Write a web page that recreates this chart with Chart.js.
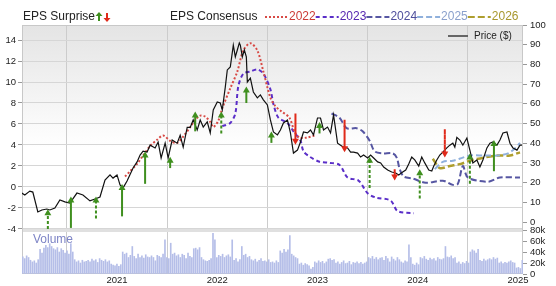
<!DOCTYPE html>
<html>
<head>
<meta charset="utf-8">
<script src="https://cdn.jsdelivr.net/npm/chart.js@4.4.1/dist/chart.umd.min.js"></script>
<style>
html, body { margin: 0; padding: 0; background: #fff; }
#wrap { width: 556px; height: 286px; }
</style>
</head>
<body>
<div id="wrap"><canvas id="epsChart" width="556" height="286"></canvas></div>
<script>
// tick labels
const yearTicks = [2021, 2022, 2023, 2024, 2025];
const epsTicks = [-4, -2, 0, 2, 4, 6, 8, 10, 12, 14];
const priceTicks = [0, 10, 20, 30, 40, 50, 60, 70, 80, 90, 100];
const volumeTicks = [0, 20, 40, 60, 80];

// price ($), time in decimal years
const priceYears = [2020.05, 2020.08, 2020.13, 2020.16, 2020.21, 2020.25, 2020.30, 2020.33, 2020.38, 2020.43,
  2020.48, 2020.53, 2020.60, 2020.66, 2020.73, 2020.78, 2020.83, 2020.88, 2020.93, 2020.96,
  2021.00, 2021.03, 2021.06, 2021.10, 2021.16, 2021.20, 2021.23, 2021.26, 2021.30, 2021.33,
  2021.38, 2021.41, 2021.44, 2021.48, 2021.51, 2021.55, 2021.60, 2021.63, 2021.66, 2021.70,
  2021.73, 2021.76, 2021.80, 2021.83, 2021.86, 2021.90, 2021.93, 2021.96, 2022.00, 2022.03,
  2022.05, 2022.08, 2022.10, 2022.13, 2022.16, 2022.18, 2022.20, 2022.22, 2022.23, 2022.25,
  2022.27, 2022.29, 2022.30, 2022.33, 2022.36, 2022.40, 2022.43, 2022.46, 2022.50, 2022.53,
  2022.56, 2022.60, 2022.63, 2022.66, 2022.70, 2022.73, 2022.76, 2022.80, 2022.83, 2022.86,
  2022.90, 2022.93, 2022.96, 2023.00, 2023.03, 2023.06, 2023.10, 2023.13, 2023.16, 2023.20,
  2023.23, 2023.26, 2023.30, 2023.33, 2023.36, 2023.40, 2023.43, 2023.46, 2023.50, 2023.53,
  2023.56, 2023.60, 2023.63, 2023.66, 2023.70, 2023.74, 2023.78, 2023.81, 2023.85, 2023.88,
  2023.91, 2023.94, 2023.97, 2024.01, 2024.04, 2024.07, 2024.11, 2024.14, 2024.16, 2024.19,
  2024.22, 2024.25, 2024.29, 2024.32, 2024.35, 2024.37, 2024.39, 2024.42, 2024.45, 2024.49,
  2024.52, 2024.55, 2024.59, 2024.62, 2024.65, 2024.69, 2024.72, 2024.75, 2024.79, 2024.82,
  2024.85, 2024.89, 2024.92, 2024.95, 2024.99, 2025.02, 2025.04];
const priceValues = [14.7, 13.7, 15.7, 15.2, 5.1, 6.1, 6.6, 6.1, 7.1, 11.2,
  10.2, 9.6, 14.7, 13.7, 10.7, 11.7, 12.7, 21.3, 23.9, 22.3,
  23.9, 18.8, 17.3, 20.8, 27.4, 30.5, 34.0, 36.0, 35.5, 39.0,
  37.6, 40.6, 32.5, 40.0, 32.5, 41.6, 40.0, 44.0, 38.0, 48.0,
  48.0, 51.8, 46.7, 51.8, 48.2, 50.8, 45.2, 56.9, 60.9, 60.4,
  56.9, 68.5, 77.2, 78.7, 89.8, 83.8, 87.3, 90.9, 89.8, 83.8,
  87.3, 83.8, 71.0, 73.0, 66.0, 63.0, 64.5, 62.0, 59.4, 51.8,
  45.7, 44.2, 46.7, 50.3, 51.8, 45.2, 35.0, 36.5, 40.6, 45.7,
  45.2, 46.7, 44.2, 52.8, 52.8, 46.7, 48.2, 45.2, 54.3, 40.0,
  39.0, 38.0, 37.6, 35.5, 35.5, 35.0, 33.0, 34.0, 32.5, 34.0,
  32.5, 30.5, 30.0, 27.9, 26.4, 25.4, 24.9, 23.9, 25.4, 26.4,
  29.4, 33.0, 31.5, 28.4, 33.0, 30.0, 26.4, 25.9, 28.4, 31.5,
  34.0, 35.5, 37.6, 39.0, 40.0, 38.0, 43.0, 41.6, 39.0, 42.6,
  36.5, 30.0, 31.5, 27.9, 31.5, 37.6, 40.0, 40.6, 39.0, 41.6,
  45.2, 45.7, 40.0, 37.6, 36.5, 39.0, 39.0];

// EPS consensus per fiscal year
const consensusLabels = ['2022', '2023', '2024', '2025', '2026'];
const eps2022Years = [2021.08, 2021.13, 2021.20, 2021.26, 2021.33, 2021.40, 2021.46, 2021.53, 2021.60, 2021.66,
  2021.73, 2021.78, 2021.83, 2021.88, 2021.93, 2021.96, 2022.01, 2022.05, 2022.13, 2022.20,
  2022.26, 2022.33, 2022.40, 2022.46, 2022.53, 2022.58, 2022.64, 2022.72, 2022.77, 2022.82,
  2022.89, 2022.97];
const eps2022Values = [1.0, 1.5, 2.2, 3.0, 3.9, 4.5, 4.9, 4.4, 4.2, 4.8,
  5.7, 6.4, 6.8, 6.7, 6.2, 5.7, 6.3, 7.5, 9.4, 11.0,
  13.0, 13.7, 13.0, 11.0, 8.5, 7.7, 7.2, 6.6, 5.3, 4.7,
  4.7, 4.9];
const eps2023Years = [2022.05, 2022.13, 2022.18, 2022.21, 2022.26, 2022.33, 2022.40, 2022.46, 2022.53, 2022.56,
  2022.61, 2022.70, 2022.76, 2022.83, 2022.86, 2022.92, 2023.02, 2023.12, 2023.22, 2023.30,
  2023.41, 2023.50, 2023.58, 2023.73, 2023.80, 2023.96];
const eps2023Values = [5.8, 6.1, 7.0, 9.6, 10.8, 11.0, 11.2, 10.8, 9.3, 7.9,
  6.6, 6.1, 5.3, 4.4, 3.4, 2.9, 2.4, 2.3, 2.1, 0.9,
  0.6, -0.6, -1.0, -1.3, -2.3, -2.5];
const eps2024Years = [2023.14, 2023.22, 2023.29, 2023.39, 2023.45, 2023.52, 2023.57, 2023.65, 2023.75, 2023.79,
  2023.82, 2023.86, 2023.95, 2024.08, 2024.25, 2024.35, 2024.40, 2024.45, 2024.50, 2024.70,
  2024.82, 2025.02];
const eps2024Values = [7.0, 6.6, 5.6, 5.6, 5.3, 4.4, 3.4, 3.2, 3.2, 2.8,
  1.7, 1.0, 0.8, 0.4, 0.6, 0.2, 0.3, 2.0, 0.9, 0.5,
  0.9, 0.9];
const eps2025Years = [2024.17, 2024.25, 2024.35, 2024.45, 2024.52, 2024.66, 2024.80, 2024.90, 2024.96, 2025.02];
const eps2025Values = [1.7, 2.4, 2.5, 2.8, 3.0, 3.0, 3.0, 3.2, 3.6, 4.2];
const eps2026Years = [2024.15, 2024.22, 2024.32, 2024.43, 2024.52, 2024.66, 2024.80, 2024.92, 2025.02];
const eps2026Values = [2.7, 1.8, 2.0, 2.2, 2.5, 2.8, 3.0, 3.0, 3.3];

// EPS surprise arrows: consensus -> actual
const surpriseYears = [2020.31, 2020.54, 2020.79, 2021.05, 2021.28, 2021.53, 2021.78, 2022.04, 2022.29, 2022.54,
  2022.78, 2023.02, 2023.27, 2023.52, 2023.77, 2024.02, 2024.27, 2024.52, 2024.76];
const surpriseFrom = [-4.0, -3.9, -3.0, -2.8, 0.3, 1.8, 5.3, 5.1, 8.0, 4.2,
  7.0, 5.1, 6.4, -0.1, 1.7, -1.1, 5.5, 0.3, 1.5];
const surpriseTo = [-2.5, -1.3, -1.3, -0.1, 3.0, 2.5, 6.8, 6.8, 9.2, 4.9,
  4.4, 5.8, 3.7, 2.5, 1.0, 1.3, 3.2, 2.8, 4.1];
const surpriseDashed = [1, 0, 1, 0, 0, 0, 0, 1, 0, 0, 0, 0, 0, 1, 0, 1, 1, 1, 0];

// weekly volume (thousands)
const volumeStart = 2020.06;
const volumes = [31, 28, 33, 30, 25, 22, 24, 20, 26, 45, 38, 47,
  52, 48, 55, 50, 46, 44, 48, 40, 46, 43, 38, 42, 36, 55, 40,
  26, 22, 24, 20, 25, 22, 23, 25, 22, 27, 24, 26, 21, 28, 25, 23, 26, 22, 24, 18, 16,
  15, 18, 14, 17, 40, 36, 38, 30, 34, 50, 32, 28, 36, 30, 33, 29, 35, 31, 30,
  33, 30, 24, 34, 32, 30, 36, 62, 30, 28, 56, 36, 38, 33, 35, 30, 36, 34, 28, 38, 32, 30,
  46, 47, 44, 48, 30, 26, 24, 23, 25, 28, 74, 62, 30, 34, 32, 36, 30, 33, 35, 31, 62,
  25, 28, 22, 26, 50, 34, 36, 30, 32, 26, 24, 27, 22, 25, 28, 23, 24, 22, 26, 21, 22, 20, 24, 21,
  42, 38, 45, 40, 44, 70, 36, 33, 30, 28, 18, 20, 16, 19, 17, 15, 9, 12, 22, 20, 24, 21, 23, 19, 22, 27, 28, 25, 26,
  20, 22, 18, 21, 24, 19, 20, 23, 17, 21, 20, 22, 19, 21, 18, 20, 22, 30, 28, 32, 27, 30, 26, 29, 30, 25, 32, 28, 22, 31, 27, 24, 30, 26, 22,
  20, 24, 22, 53, 30, 18, 16, 20, 17, 30, 28, 32, 27, 25, 29, 26, 28, 24, 30, 27, 26, 28, 50, 31, 30, 33, 28, 30, 20, 22, 18, 21, 19, 23, 20,
  40, 44, 42, 38, 45, 25, 23, 27, 24, 26, 28, 26, 30, 27, 29, 20, 22, 19, 21, 20, 22, 24, 21, 20, 11, 12, 10, 25];

const consensusStyles = [
  { color: '#d84a45', text: '#cc3b36', dash: [2, 2], width: 2 },
  { color: '#5a2ec8', text: '#5526b0', dash: [4, 3], width: 2 },
  { color: '#5656a2', text: '#4e4e9c', dash: [6, 3], width: 2 },
  { color: '#8fb0dc', text: '#8aa0cc', dash: [6, 3], width: 2 },
  { color: '#ae9e2e', text: '#a8982e', dash: [7, 3], width: 2.5 },
];
const green = '#3f8f1f';
const red = '#e02a1a';

const toXY = (xs, ys) => xs.map((x, i) => ({ x: x, y: ys[i] }));

function arrowData(up) {
  const pts = [];
  surpriseYears.forEach((t, i) => {
    if ((surpriseTo[i] >= surpriseFrom[i]) !== up) return;
    pts.push({ x: t, y: surpriseFrom[i], k: i }, { x: t, y: surpriseTo[i], k: i }, { x: t, y: null, k: i });
  });
  return pts;
}

function arrowDataset(up) {
  const pts = arrowData(up);
  const c = up ? green : red;
  return {
    type: 'line',
    data: pts,
    yAxisID: 'yL',
    borderColor: c,
    backgroundColor: c,
    borderWidth: 2,
    spanGaps: false,
    pointStyle: 'triangle',
    pointRotation: up ? 0 : 180,
    pointRadius: ctx => (ctx.dataIndex % 3 === 1 ? 4 : 0),
    pointBorderWidth: 0,
    segment: {
      borderDash: ctx => (surpriseDashed[pts[ctx.p0DataIndex].k] ? [3, 2] : [])
    }
  };
}

const consensusSeries = [
  [eps2022Years, eps2022Values],
  [eps2023Years, eps2023Values],
  [eps2024Years, eps2024Values],
  [eps2025Years, eps2025Values],
  [eps2026Years, eps2026Values],
];
const consensusDatasets = consensusSeries.map((s, i) => ({
  type: 'line',
  label: consensusLabels[i],
  data: toXY(s[0], s[1]),
  yAxisID: 'yL',
  borderColor: consensusStyles[i].color,
  borderDash: consensusStyles[i].dash,
  borderWidth: consensusStyles[i].width,
  pointRadius: 0,
  tension: 0.3
}));

function miniArrow(ctx, x, y, up, color) {
  const d = up ? 1 : -1;
  ctx.fillStyle = color;
  ctx.fillRect(x - 1, y - d * 1, 2, d * 5);
  ctx.beginPath();
  ctx.moveTo(x - 3.5, y - d * 1);
  ctx.lineTo(x + 3.5, y - d * 1);
  ctx.lineTo(x, y - d * 5);
  ctx.closePath();
  ctx.fill();
}

const decor = {
  id: 'decor',
  beforeDraw(chart) {
    const { ctx, chartArea: a, scales } = chart;
    const mb = scales.yR.bottom;
    const g = ctx.createLinearGradient(0, a.top, 0, mb);
    g.addColorStop(0, '#e4e4e4');
    g.addColorStop(0.6, '#ffffff');
    ctx.save();
    ctx.fillStyle = g;
    ctx.fillRect(a.left, a.top, a.right - a.left, mb - a.top);
    ctx.restore();
  },
  beforeDatasetsDraw(chart) {
    const { ctx, chartArea: a, scales } = chart;
    const mb = scales.yR.bottom;
    ctx.save();
    ctx.fillStyle = '#e0e0e0';
    ctx.fillRect(a.left, mb - 1, a.right - a.left, 3);
    ctx.strokeStyle = '#c8c8c8';
    ctx.lineWidth = 1;
    ctx.strokeRect(a.left + 0.5, a.top + 0.5, a.right - a.left - 1, a.bottom - a.top - 1);
    ctx.restore();
  },
  afterDraw(chart) {
    const { ctx } = chart;
    ctx.save();
    ctx.textBaseline = 'middle';
    ctx.font = '12px "Liberation Sans", Arial, sans-serif';
    ctx.fillStyle = '#222';
    ctx.fillText('EPS Surprise', 23, 17);
    miniArrow(ctx, 99, 17, true, green);
    miniArrow(ctx, 107, 17, false, red);
    ctx.fillStyle = '#222';
    ctx.fillText('EPS Consensus', 170, 17);
    let x = 265;
    consensusLabels.forEach((lab, i) => {
      const st = consensusStyles[i];
      ctx.beginPath();
      ctx.setLineDash(st.dash);
      ctx.strokeStyle = st.color;
      ctx.lineWidth = 2;
      ctx.moveTo(x, 17);
      ctx.lineTo(x + 23, 17);
      ctx.stroke();
      ctx.setLineDash([]);
      x += 24;
      ctx.fillStyle = st.text;
      ctx.fillText(lab, x, 17);
      x += ctx.measureText(lab).width;
    });

    // price legend inside the plot
    ctx.strokeStyle = '#666';
    ctx.lineWidth = 2;
    ctx.beginPath();
    ctx.moveTo(448, 36);
    ctx.lineTo(468, 36);
    ctx.stroke();
    ctx.font = '10px "Liberation Sans", Arial, sans-serif';
    ctx.fillStyle = '#222';
    ctx.fillText('Price ($)', 474, 36);

    ctx.font = '12px "Liberation Sans", Arial, sans-serif';
    ctx.fillStyle = '#7d84c6';
    ctx.fillText('Volume', 33, 240);
    ctx.restore();
  }
};

Chart.defaults.font.family = '"Liberation Sans", Arial, sans-serif';
Chart.defaults.font.size = 9.5;
Chart.defaults.color = '#222';

const tickSet = list => scale => { scale.ticks = list.map(v => ({ value: v })); };

new Chart(document.getElementById('epsChart'), {
  type: 'line',
  data: {
    datasets: [
      arrowDataset(true),
      arrowDataset(false),
      {
        type: 'line',
        label: 'Price ($)',
        data: toXY(priceYears, priceValues),
        yAxisID: 'yR',
        borderColor: '#111',
        borderWidth: 1.2,
        pointRadius: 0,
        tension: 0
      },
      ...consensusDatasets,
      {
        type: 'bar',
        label: 'Volume',
        data: volumes.map((v, i) => ({ x: volumeStart + i * 7 / 365.25, y: v })),
        yAxisID: 'yV',
        backgroundColor: '#b5bee8',
        barThickness: 1
      }
    ]
  },
  options: {
    responsive: false,
    animation: false,
    devicePixelRatio: 1,
    events: [],
    layout: { padding: { top: 25, left: 0, right: 0, bottom: 0 } },
    plugins: { legend: { display: false }, tooltip: { enabled: false } },
    scales: {
      x: {
        type: 'linear',
        min: 2020.052,
        max: 2025.05,
        offset: false,
        afterBuildTicks: tickSet(yearTicks),
        afterFit: s => { s.height = 12; },
        grid: { color: '#cccccc', drawTicks: false },
        border: { display: false },
        ticks: { autoSkip: false, maxRotation: 0, padding: 1, color: '#222', callback: v => String(v) }
      },
      yL: {
        position: 'left',
        min: -8.29,
        max: 15.43,
        afterBuildTicks: tickSet(epsTicks),
        afterFit: s => { s.width = 22; },
        grid: { color: '#d6d6d6', tickLength: 4, tickColor: '#999' },
        border: { display: false },
        ticks: { autoSkip: false, padding: 2 }
      },
      yR: {
        position: 'right',
        stack: 'right',
        stackWeight: 205,
        min: -4.06,
        max: 100,
        afterBuildTicks: tickSet(priceTicks),
        afterFit: s => { s.width = 33; },
        grid: { drawOnChartArea: false, tickLength: 4, tickColor: '#999' },
        border: { display: false },
        ticks: { autoSkip: false, padding: 3 }
      },
      yV: {
        position: 'right',
        stack: 'right',
        stackWeight: 44,
        min: 0,
        max: 80,
        afterBuildTicks: tickSet(volumeTicks),
        afterFit: s => { s.width = 33; },
        grid: { drawOnChartArea: false, tickLength: 4, tickColor: '#999' },
        border: { display: false },
        ticks: { autoSkip: false, padding: 3, callback: v => (v ? v + 'k' : '0') }
      }
    }
  },
  plugins: [decor]
});
</script>
</body>
</html>
